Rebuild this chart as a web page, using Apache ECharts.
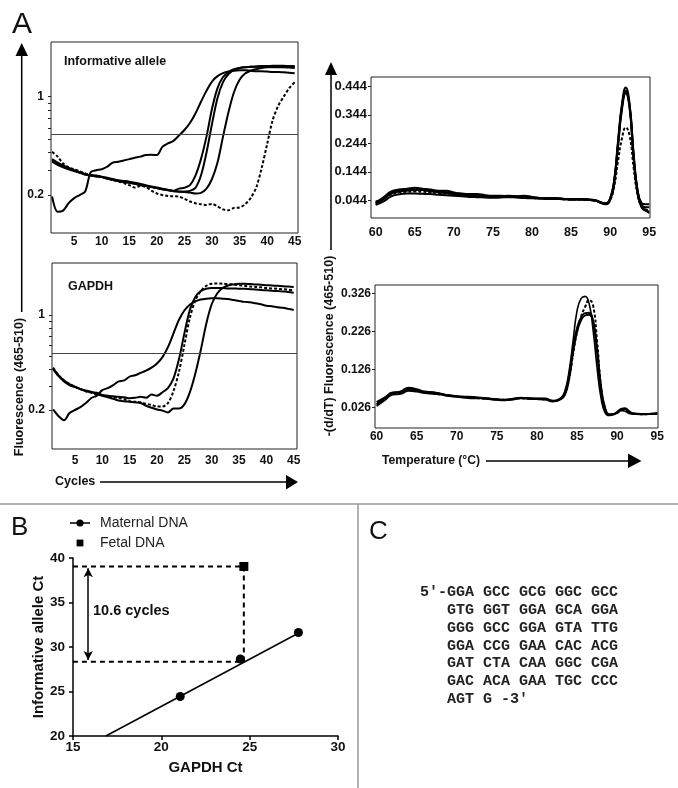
<!DOCTYPE html>
<html><head><meta charset="utf-8">
<script src="https://cdn.jsdelivr.net/npm/echarts@6/dist/echarts.min.js"></script>
<style>html,body{margin:0;padding:0;background:#fff}#c{width:678px;height:788px}</style>
</head><body><div id="c"></div><script>
// ---------- Panel A: amplification curves ----------
const cycles = [1,2,3,4,5,6,7,8,9,10,11,12,13,14,15,16,17,18,19,20,21,22,23,24,25,26,27,28,29,30,31,32,33,34,35,36,37,38,39,40,41,42,43,44,45];
const cycleTicks = [5,10,15,20,25,30,35,40,45];
const fluorLabels = [0.2, 1];
const fluorTicks = [0.2,0.3,0.4,0.5,0.6,0.7,0.8,0.9,1];
const infoThreshold = 0.54;
const gapdhThreshold = 0.53;

const infoA = [0.195,0.152,0.155,0.175,0.19,0.2,0.212,0.29,0.3,0.305,0.318,0.34,0.345,0.352,0.36,0.368,0.375,0.385,0.386,0.385,0.44,0.465,0.485,0.53,0.58,0.65,0.76,0.92,1.1,1.28,1.4,1.47,1.51,1.53,1.54,1.54,1.53,1.52,1.52,1.51,1.5,1.5,1.49,1.48,1.47];
const infoB = [0.355,0.335,0.32,0.31,0.3,0.29,0.283,0.277,0.275,0.27,0.265,0.26,0.255,0.252,0.249,0.245,0.24,0.235,0.23,0.226,0.222,0.218,0.214,0.222,0.225,0.235,0.275,0.36,0.52,0.82,1.15,1.38,1.5,1.57,1.6,1.62,1.63,1.64,1.65,1.65,1.66,1.66,1.66,1.65,1.65];
const infoB2 = [0.345,0.328,0.315,0.305,0.296,0.288,0.28,0.275,0.272,0.268,0.262,0.258,0.252,0.248,0.244,0.24,0.236,0.232,0.228,0.224,0.22,0.216,0.213,0.211,0.212,0.214,0.225,0.275,0.4,0.64,0.98,1.27,1.45,1.55,1.6,1.62,1.63,1.63,1.63,1.63,1.62,1.62,1.62,1.61,1.6];
const infoC = [0.36,0.34,0.325,0.312,0.3,0.29,0.28,0.275,0.272,0.268,0.262,0.257,0.252,0.248,0.245,0.24,0.236,0.232,0.228,0.224,0.22,0.217,0.214,0.212,0.21,0.208,0.205,0.207,0.222,0.26,0.34,0.52,0.78,1.08,1.32,1.46,1.53,1.57,1.6,1.62,1.63,1.64,1.64,1.63,1.62];
const infoDash = [0.406,0.375,0.335,0.315,0.305,0.295,0.285,0.277,0.272,0.268,0.262,0.255,0.25,0.243,0.235,0.226,0.232,0.228,0.215,0.205,0.2,0.197,0.196,0.195,0.188,0.18,0.175,0.172,0.17,0.173,0.166,0.158,0.156,0.162,0.163,0.172,0.19,0.225,0.31,0.46,0.68,0.86,1.0,1.15,1.27];

const gapA = [0.202,0.18,0.168,0.19,0.2,0.21,0.225,0.245,0.255,0.28,0.29,0.305,0.325,0.33,0.352,0.36,0.375,0.39,0.41,0.44,0.49,0.58,0.73,0.92,1.08,1.19,1.26,1.3,1.32,1.33,1.33,1.32,1.31,1.29,1.27,1.25,1.24,1.22,1.2,1.17,1.16,1.14,1.13,1.11,1.09];
const gapB = [0.405,0.36,0.33,0.31,0.297,0.285,0.275,0.27,0.268,0.258,0.255,0.252,0.25,0.248,0.244,0.246,0.25,0.246,0.26,0.255,0.27,0.29,0.34,0.47,0.73,1.09,1.36,1.5,1.56,1.58,1.58,1.58,1.57,1.57,1.56,1.56,1.55,1.54,1.53,1.52,1.51,1.5,1.49,1.48,1.46];
const gapC = [0.4,0.355,0.325,0.305,0.295,0.285,0.278,0.272,0.262,0.255,0.248,0.242,0.235,0.232,0.23,0.228,0.225,0.215,0.208,0.202,0.198,0.192,0.205,0.205,0.22,0.27,0.37,0.55,0.86,1.2,1.44,1.58,1.65,1.68,1.7,1.7,1.69,1.68,1.67,1.66,1.65,1.64,1.63,1.62,1.61];
const gapDash = [0.41,0.36,0.33,0.31,0.297,0.285,0.275,0.268,0.26,0.255,0.25,0.248,0.245,0.24,0.232,0.23,0.228,0.222,0.218,0.212,0.212,0.225,0.275,0.38,0.6,0.95,1.28,1.5,1.64,1.7,1.71,1.7,1.69,1.68,1.66,1.64,1.62,1.61,1.6,1.58,1.57,1.56,1.55,1.54,1.52];

// ---------- Panel A: melting curves ----------
const tempTicks = [60,65,70,75,80,85,90,95];
const melt1Labels = [0.044,0.144,0.244,0.344,0.444];
const melt2Labels = [0.026,0.126,0.226,0.326];
const temps1 = [60,61,62,63,64,65,66,67,68,69,70,71,72,73,74,75,76,77,78,79,80,81,82,83,84,85,86,87,88,89,89.5,90,90.5,91,91.5,92,92.5,93,93.5,94,94.5,95];
const meltInfoA = [0.035,0.055,0.075,0.082,0.085,0.088,0.085,0.082,0.078,0.078,0.072,0.068,0.066,0.066,0.062,0.06,0.06,0.058,0.058,0.06,0.056,0.052,0.052,0.052,0.05,0.047,0.048,0.048,0.045,0.036,0.034,0.05,0.11,0.25,0.38,0.44,0.38,0.2,0.08,0.03,0.02,0.02];
const meltInfoB = [0.03,0.048,0.068,0.075,0.078,0.08,0.08,0.078,0.076,0.072,0.07,0.066,0.064,0.062,0.06,0.058,0.057,0.058,0.056,0.054,0.053,0.052,0.05,0.049,0.048,0.047,0.048,0.047,0.044,0.034,0.032,0.048,0.105,0.24,0.37,0.43,0.37,0.19,0.07,0.02,0.008,0.005];
const meltInfoC = [0.028,0.04,0.058,0.065,0.068,0.068,0.067,0.066,0.064,0.062,0.06,0.058,0.056,0.055,0.054,0.053,0.054,0.055,0.054,0.052,0.051,0.05,0.049,0.049,0.048,0.047,0.047,0.046,0.043,0.033,0.03,0.045,0.1,0.23,0.36,0.42,0.365,0.2,0.075,0.025,0.01,0.0];
const meltInfoD = [0.04,0.05,0.07,0.078,0.08,0.082,0.08,0.076,0.072,0.07,0.066,0.064,0.062,0.06,0.058,0.056,0.058,0.06,0.058,0.056,0.054,0.052,0.05,0.05,0.049,0.048,0.048,0.046,0.044,0.035,0.033,0.05,0.11,0.24,0.37,0.425,0.375,0.21,0.08,0.035,0.03,0.03];
const meltInfoDash = [0.036,0.05,0.065,0.072,0.074,0.075,0.074,0.072,0.07,0.068,0.066,0.063,0.062,0.06,0.058,0.057,0.056,0.056,0.055,0.054,0.052,0.051,0.05,0.049,0.048,0.047,0.047,0.046,0.043,0.035,0.033,0.045,0.09,0.18,0.26,0.3,0.27,0.16,0.065,0.025,0.012,0.01];

const temps2 = [60,61,62,63,64,65,66,67,68,69,70,71,72,73,74,75,76,77,78,79,80,81,82,83,83.5,84,84.5,85,85.5,86,86.5,87,87.5,88,88.5,89,89.5,90,90.5,91,91.5,92,93,94,95];
const meltGapA = [0.035,0.05,0.066,0.066,0.075,0.07,0.066,0.066,0.062,0.058,0.056,0.055,0.054,0.052,0.05,0.048,0.046,0.048,0.052,0.05,0.05,0.05,0.044,0.052,0.07,0.12,0.2,0.28,0.312,0.318,0.3,0.23,0.13,0.05,0.012,0.005,0.008,0.012,0.018,0.016,0.01,0.008,0.008,0.009,0.01];
const meltGapB = [0.03,0.045,0.06,0.062,0.07,0.068,0.064,0.062,0.06,0.056,0.054,0.052,0.05,0.05,0.048,0.046,0.045,0.047,0.05,0.049,0.048,0.047,0.043,0.05,0.065,0.11,0.18,0.235,0.262,0.274,0.275,0.25,0.17,0.07,0.02,0.006,0.008,0.014,0.022,0.024,0.016,0.01,0.008,0.009,0.01];
const meltGapC = [0.04,0.052,0.064,0.068,0.078,0.074,0.068,0.066,0.062,0.058,0.055,0.053,0.052,0.051,0.049,0.047,0.046,0.049,0.051,0.05,0.049,0.048,0.042,0.048,0.06,0.1,0.17,0.225,0.255,0.268,0.27,0.255,0.18,0.08,0.025,0.008,0.008,0.012,0.02,0.022,0.015,0.01,0.009,0.009,0.01];
const meltGapDash = [0.034,0.048,0.062,0.064,0.072,0.07,0.066,0.064,0.06,0.057,0.055,0.053,0.052,0.05,0.049,0.047,0.046,0.048,0.05,0.049,0.048,0.047,0.043,0.05,0.062,0.1,0.165,0.225,0.265,0.29,0.308,0.295,0.2,0.08,0.022,0.008,0.008,0.012,0.018,0.02,0.014,0.01,0.008,0.009,0.01];

// ---------- Panel B ----------
const maternalGapdh = [21.07, 24.47, 27.76];
const maternalInfo = [24.44, 28.65, 31.63];
const fetalGapdh = [24.67];
const fetalInfo = [39.05];
const fitGapdh = [16.86, 27.8];
const fitInfo = [20, 31.6];
const guideGapdh = [15, 24.67, 24.67, 15];
const guideInfo = [39.05, 39.05, 28.35, 28.35];
const deltaLabel = '10.6 cycles';

// ---------- Panel C ----------
const seqLines = ['5\u2032-GGA GCC GCG GGC GCC','GTG GGT GGA GCA GGA','GGG GCC GGA GTA TTG','GGA CCG GAA CAC ACG','GAT CTA CAA GGC CGA','GAC ACA GAA TGC CCC','AGT G -3\u2032'];

const FONT = '"Liberation Sans", Arial, sans-serif';
const log = v => Math.log10(v);
const fmtLog = v => String(Math.round(Math.pow(10, v) * 10) / 10);
const pairs = (xs, ys, f) => xs.map((x, i) => [x, f ? f(ys[i]) : ys[i]]);

function ampX(idx) {
  return {gridIndex: idx, type: 'value', min: 0.8, max: 45.6,
    axisLine: {show: false}, splitLine: {show: false},
    axisTick: {show: false, customValues: cycleTicks},
    axisLabel: {customValues: cycleTicks, fontWeight: 'bold', fontSize: 12, fontFamily: FONT, color: '#111', margin: idx === 0 ? 3 : 6}};
}
function ampY(idx, min, max) {
  return {gridIndex: idx, type: 'value', min: min, max: max,
    axisLine: {show: false}, splitLine: {show: false},
    axisTick: {show: true, length: 3, customValues: fluorTicks.map(log), lineStyle: {color: '#222'}},
    axisLabel: {customValues: fluorLabels.map(log), formatter: fmtLog, fontWeight: 'bold', fontSize: 12, fontFamily: FONT, color: '#111', margin: 7}};
}
function meltX(idx, min, max, fs, margin) {
  return {gridIndex: idx, type: 'value', min: min, max: max,
    axisLine: {show: false}, splitLine: {show: false},
    axisTick: {show: false, customValues: tempTicks},
    axisLabel: {customValues: tempTicks, fontWeight: 'bold', fontSize: fs, fontFamily: FONT, color: '#111', margin: margin}};
}
function meltY(idx, min, max, labels, fs) {
  return {gridIndex: idx, type: 'value', min: min, max: max,
    axisLine: {show: false}, splitLine: {show: false},
    axisTick: {show: true, length: 3, customValues: labels, lineStyle: {color: '#222'}},
    axisLabel: {customValues: labels, formatter: v => v.toFixed(3), fontWeight: 'bold', fontSize: fs, fontFamily: FONT, color: '#111', margin: 4}};
}
const solid = {color: '#000', width: 2};
const dashed = {color: '#000', width: 2, type: [3, 2]};
function curve(ax, xs, ys, style, f, extra) {
  return Object.assign({type: 'line', xAxisIndex: ax, yAxisIndex: ax, data: pairs(xs, ys, f),
    showSymbol: false, smooth: 0.3, lineStyle: style, silent: true, z: 3}, extra || {});
}
function thresh(v) {
  return {silent: true, symbol: 'none', label: {show: false}, lineStyle: {color: '#444', width: 1, type: 'solid'}, data: [{yAxis: log(v)}]};
}

const gridBox = {show: true, borderColor: '#222', borderWidth: 1, backgroundColor: 'transparent', outerBoundsMode: 'none'};
const bold = (s) => 'bold ' + s + 'px ' + FONT;

const chart = echarts.init(document.getElementById('c'), null, {renderer: 'canvas'});
chart.setOption({
  animation: false,
  backgroundColor: '#fff',
  grid: [
    Object.assign({left: 51, top: 42, width: 247, height: 191}, gridBox),
    Object.assign({left: 52, top: 263, width: 245, height: 186}, gridBox),
    Object.assign({left: 371, top: 77, width: 279, height: 141}, gridBox),
    Object.assign({left: 375, top: 285, width: 283, height: 143}, gridBox),
    {left: 73, top: 558, width: 265, height: 178, show: false, outerBoundsMode: 'none'}
  ],
  xAxis: [
    ampX(0), ampX(1),
    meltX(2, 59.4, 95.1, 12.5, 8),
    meltX(3, 59.8, 95.1, 12, 3),
    {gridIndex: 4, type: 'value', min: 15, max: 30, interval: 5,
      name: 'GAPDH Ct', nameLocation: 'middle', nameGap: 24,
      nameTextStyle: {fontWeight: 'bold', fontSize: 15, fontFamily: FONT, color: '#111'},
      axisLine: {show: true, lineStyle: {color: '#000', width: 1.5}},
      axisTick: {show: true, length: 4, lineStyle: {color: '#000', width: 1.5}},
      splitLine: {show: false},
      axisLabel: {fontWeight: 'bold', fontSize: 13.5, fontFamily: FONT, color: '#111', margin: 4}}
  ],
  yAxis: [
    ampY(0, -0.969, 0.389), ampY(1, -0.986, 0.383),
    meltY(2, -0.018, 0.477, melt1Labels, 13),
    meltY(3, -0.028, 0.348, melt2Labels, 12),
    {gridIndex: 4, type: 'value', min: 20, max: 40, interval: 5,
      name: 'Informative allele Ct', nameLocation: 'middle', nameGap: 27,
      nameTextStyle: {fontWeight: 'bold', fontSize: 15, fontFamily: FONT, color: '#111'},
      axisLine: {show: true, lineStyle: {color: '#000', width: 1.5}},
      axisTick: {show: true, length: 4, lineStyle: {color: '#000', width: 1.5}},
      splitLine: {show: false},
      axisLabel: {fontWeight: 'bold', fontSize: 13.5, fontFamily: FONT, color: '#111', margin: 8}}
  ],
  legend: {
    orient: 'vertical', left: 70, top: 516, itemWidth: 25, itemHeight: 10, itemGap: 6, padding: 0,
    selectedMode: false,
    textStyle: {fontSize: 14, fontFamily: FONT, color: '#222'},
    data: [
      {name: 'Maternal DNA', icon: 'path://M0,0 M25,10 M0,4.3 H6.6 V5.7 H0 Z M13.4,4.3 H20 V5.7 H13.4 Z M13.6,5 A3.6,3.6 0 1 1 6.4,5 A3.6,3.6 0 1 1 13.6,5 Z', itemStyle: {color: '#000', opacity: 1}},
      {name: 'Fetal DNA', icon: 'path://M0,0 M25,10 M6.6,1.6 H13.4 V8.4 H6.6 Z', itemStyle: {color: '#000', opacity: 1}}
    ]
  },
  series: [
    curve(0, cycles, infoA, solid, log, {markLine: thresh(infoThreshold)}),
    curve(0, cycles, infoB, solid, log),
    curve(0, cycles, infoB2, solid, log),
    curve(0, cycles, infoC, solid, log),
    curve(0, cycles, infoDash, dashed, log),
    curve(1, cycles, gapA, solid, log, {markLine: thresh(gapdhThreshold)}),
    curve(1, cycles, gapB, solid, log),
    curve(1, cycles, gapC, solid, log),
    curve(1, cycles, gapDash, dashed, log),
    curve(2, temps1, meltInfoA, solid, null, {smooth: true}),
    curve(2, temps1, meltInfoB, solid, null, {smooth: true}),
    curve(2, temps1, meltInfoC, solid, null, {smooth: true}),
    curve(2, temps1, meltInfoD, solid, null, {smooth: true}),
    curve(2, temps1, meltInfoDash, dashed, null, {smooth: true}),
    curve(3, temps2, meltGapA, {color: '#000', width: 1.6}, null, {smooth: true}),
    curve(3, temps2, meltGapB, solid, null, {smooth: true}),
    curve(3, temps2, meltGapC, solid, null, {smooth: true}),
    curve(3, temps2, meltGapDash, dashed, null, {smooth: true}),
    {type: 'line', name: 'fit', xAxisIndex: 4, yAxisIndex: 4, data: pairs(fitGapdh, fitInfo), showSymbol: false, symbol: 'none',
      lineStyle: {color: '#000', width: 1.5}, silent: true, z: 2},
    {type: 'line', name: 'guide', xAxisIndex: 4, yAxisIndex: 4, data: pairs(guideGapdh, guideInfo), showSymbol: false, symbol: 'none',
      lineStyle: {color: '#000', width: 2, type: [5, 4]}, silent: true, z: 2,
      markLine: {silent: true, symbol: ['arrow', 'arrow'], symbolSize: [7, 9], label: {show: false},
        lineStyle: {color: '#000', width: 1.5, type: 'solid'},
        data: [[{coord: [15.86, 38.85]}, {coord: [15.86, 28.55]}]]}},
    {type: 'scatter', name: 'Maternal DNA', xAxisIndex: 4, yAxisIndex: 4, data: pairs(maternalGapdh, maternalInfo),
      symbol: 'circle', symbolSize: 9, itemStyle: {color: '#000', opacity: 1}, z: 4, silent: true},
    {type: 'scatter', name: 'Fetal DNA', xAxisIndex: 4, yAxisIndex: 4, data: pairs(fetalGapdh, fetalInfo),
      symbol: 'rect', symbolSize: 9, itemStyle: {color: '#000', opacity: 1}, z: 4, silent: true}
  ],
  graphic: [
    // panel letters
    {type: 'text', x: 12, y: 25, style: {text: 'A', font: '30px ' + FONT, fill: '#111', textVerticalAlign: 'middle'}},
    {type: 'text', x: 11, y: 528, style: {text: 'B', font: '26px ' + FONT, fill: '#111', textVerticalAlign: 'middle'}},
    {type: 'text', x: 369, y: 532, style: {text: 'C', font: '26px ' + FONT, fill: '#111', textVerticalAlign: 'middle'}},
    // panel titles
    {type: 'text', x: 64, y: 62, style: {text: 'Informative allele', font: bold(12.5), fill: '#111', textVerticalAlign: 'middle'}},
    {type: 'text', x: 68, y: 287, style: {text: 'GAPDH', font: bold(12.5), fill: '#111', textVerticalAlign: 'middle'}},
    // left vertical arrow + title
    {type: 'line', shape: {x1: 21.7, y1: 55, x2: 21.7, y2: 312}, style: {stroke: '#000', lineWidth: 1.5}},
    {type: 'polygon', shape: {points: [[15.5, 56], [28, 56], [21.7, 43]]}, style: {fill: '#000'}},
    {type: 'text', x: 20, y: 387, rotation: Math.PI / 2, style: {text: 'Fluorescence (465-510)', font: bold(12.5), fill: '#111', textAlign: 'center', textVerticalAlign: 'middle'}},
    // right vertical arrow + title
    {type: 'line', shape: {x1: 331, y1: 74, x2: 331, y2: 250}, style: {stroke: '#000', lineWidth: 1.5}},
    {type: 'polygon', shape: {points: [[325, 75], [337, 75], [331, 62]]}, style: {fill: '#000'}},
    {type: 'text', x: 330, y: 346, rotation: Math.PI / 2, style: {text: '-(d/dT) Fluorescence (465-510)', font: bold(12.5), fill: '#111', textAlign: 'center', textVerticalAlign: 'middle'}},
    // Cycles arrow
    {type: 'text', x: 55, y: 482, style: {text: 'Cycles', font: bold(12.5), fill: '#111', textVerticalAlign: 'middle'}},
    {type: 'line', shape: {x1: 100, y1: 482, x2: 288, y2: 482}, style: {stroke: '#000', lineWidth: 1.5}},
    {type: 'polygon', shape: {points: [[286, 475], [286, 489.5], [298, 482]]}, style: {fill: '#000'}},
    // Temperature arrow
    {type: 'text', x: 382, y: 461, style: {text: 'Temperature (\u00B0C)', font: bold(12.2), fill: '#111', textVerticalAlign: 'middle'}},
    {type: 'line', shape: {x1: 486, y1: 461, x2: 630, y2: 461}, style: {stroke: '#000', lineWidth: 1.5}},
    {type: 'polygon', shape: {points: [[628, 453.5], [628, 468], [641.5, 461]]}, style: {fill: '#000'}},
    // dividers
    {type: 'line', shape: {x1: 0, y1: 504, x2: 678, y2: 504}, style: {stroke: '#9a9a9a', lineWidth: 1.5}},
    {type: 'line', shape: {x1: 358, y1: 504, x2: 358, y2: 788}, style: {stroke: '#9a9a9a', lineWidth: 1.5}},
    // panel B annotation
    {type: 'text', x: 93, y: 611, style: {text: deltaLabel, font: bold(14.5), fill: '#111', textVerticalAlign: 'middle'}},
    // panel C sequence
    ...seqLines.map((s, i) => ({type: 'text', x: i === 0 ? 420 : 447, y: [592, 610, 628, 646, 663.5, 681, 699][i],
      style: {text: s, font: 'bold 15px "Liberation Mono", "Courier New", monospace', fill: '#222', textVerticalAlign: 'middle'}}))
  ]
});
</script></body></html>
